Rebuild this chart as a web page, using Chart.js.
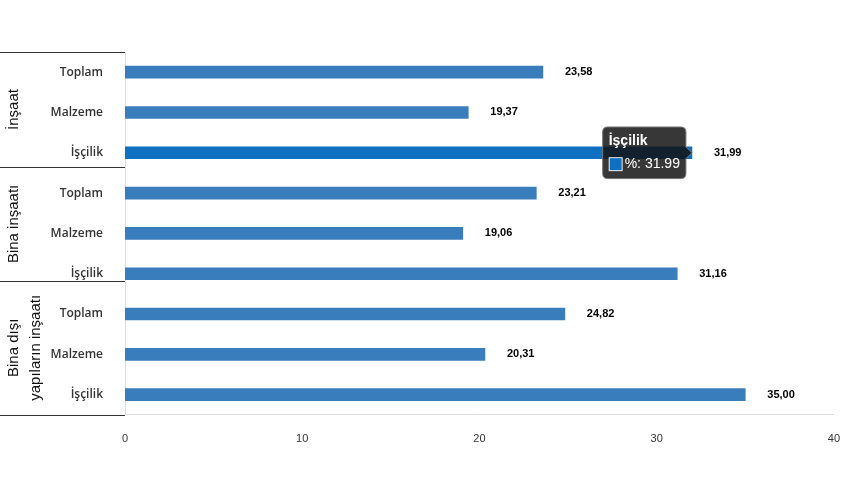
<!DOCTYPE html>
<html><head><meta charset="utf-8">
<script src="https://cdn.jsdelivr.net/npm/chart.js@4"></script>
<style>html,body{margin:0;padding:0;background:#fff}#w{width:850px;height:478px}</style>
</head><body><div id="w"><canvas id="c"></canvas></div>
<script>
const categories = ["Toplam","Malzeme","İşçilik","Toplam","Malzeme","İşçilik","Toplam","Malzeme","İşçilik"];
const values = [23.58,19.37,31.99,23.21,19.06,31.16,24.82,20.31,35.00];
const groups = [["İnşaat"],["Bina inşaatı"],["Bina dışı","yapıların inşaatı"]];
const xTicks = [0,10,20,30,40];

const groupPlugin = {
  id:'grp',
  afterDatasetsDraw(ch){
    const c=ch.ctx, a=ch.chartArea;
    const step=(a.bottom-a.top)/categories.length;
    c.save();
    c.strokeStyle='#333'; c.lineWidth=1;
    const lines=[a.top, a.top+3*step-6, a.top+6*step-13, a.bottom];
    lines.forEach(l=>{c.beginPath();c.moveTo(0,Math.round(l)+0.5);c.lineTo(a.left,Math.round(l)+0.5);c.stroke();});
    c.fillStyle='#111'; c.font='15px Arial, sans-serif'; c.textAlign='center'; c.textBaseline='middle';
    groups.forEach((g,i)=>{
      const cy=(lines[i]+lines[i+1])/2;
      c.save(); c.translate(14+(g.length-1)*11,cy); c.rotate(-Math.PI/2);
      g.forEach((t,k)=>c.fillText(t,0,(k-(g.length-1)/2)*22));
      c.restore();
    });
    const m=ch.getDatasetMeta(0);
    c.font='bold 11px Arial, sans-serif'; c.fillStyle='#000'; c.textAlign='left';
    m.data.forEach((b,i)=>c.fillText(values[i].toFixed(2).replace('.',','),b.x+22,b.y));
    c.restore();
  }
};

const ch=new Chart(document.getElementById('c'),{
  type:'bar',
  data:{labels:categories,datasets:[{label:'%',data:values,backgroundColor:values.map((v,i)=>i===2?'#0f6fc1':'#3a7dbd'),hoverBackgroundColor:'#0f6fc1',barThickness:12}]},
  options:{
    indexAxis:'y',responsive:true,maintainAspectRatio:false,animation:false,
    layout:{padding:{top:52,right:12,left:0,bottom:22}},
    plugins:{legend:{display:false},
      tooltip:{backgroundColor:'rgba(20,20,20,0.85)',borderColor:'#777',borderWidth:1,cornerRadius:5,
        titleFont:{family:'Arial',size:14,weight:'bold'},bodyFont:{family:'Arial',size:14},
        xAlign:'right',yAlign:'center',caretSize:6,caretPadding:0,padding:6,
        callbacks:{label:c=>'%: '+c.raw}}},
    scales:{
      x:{min:0,max:40,ticks:{stepSize:10,color:'#333',font:{family:'Arial',size:11},padding:10,callback:v=>xTicks.includes(v)?v:''},
        grid:{display:false},border:{color:'#ddd'}},
      y:{afterFit:s=>{s.width=125;},grid:{display:false},border:{color:'#ddd'},
        ticks:{color:'#333',font:{family:'"Open Sans", sans-serif',size:12,weight:'600'},padding:14}}
    }
  },
  plugins:[groupPlugin]
});
const el=ch.getDatasetMeta(0).data[2];
ch.tooltip.setActiveElements([{datasetIndex:0,index:2}],{x:el.x,y:el.y});
ch.update();
</script></body></html>
